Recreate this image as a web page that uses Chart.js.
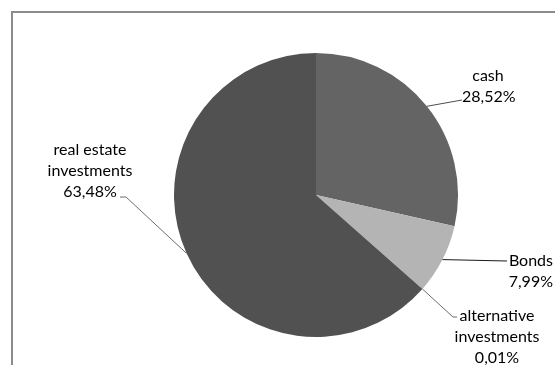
<!DOCTYPE html>
<html>
<head>
<meta charset="utf-8">
<script src="https://cdn.jsdelivr.net/npm/chart.js@4.4.1/dist/chart.umd.min.js"></script>
<style>
  html, body { margin: 0; padding: 0; background: #ffffff; }
  #wrap { width: 555px; height: 365px; position: relative; }
</style>
</head>
<body>
<div id="wrap"><canvas id="c" width="555" height="365"></canvas></div>
<script>
// Portfolio allocation, shares in percent
const categories = ['cash', 'Bonds', 'alternative investments', 'real estate investments'];
const labelLines = [['cash'], ['Bonds'], ['alternative', 'investments'], ['real estate', 'investments']];
const shares = [28.52, 7.99, 0.01, 63.48];
const sliceColors = ['#646464', '#b4b4b4', '#4a4a4a', '#515151'];

const fmt = v => v.toFixed(2).replace('.', ',') + '%';

// Callout placement for each slice: where the leader line ends (elbow) and
// where the text block sits, plus text alignment.
const callouts = [
  { elbow: [462, 100], tail: null, tx: 488, ty: 76, align: 'center', valueAlign: 'left', valueX: 462, valueY: 97 },
  { elbow: [507, 261], tail: null, tx: 553, ty: 261, align: 'right', valueAlign: 'right', valueX: 553, valueY: 282 },
  { elbow: [453, 317], tail: [457, 317], tx: 497, ty: 316, align: 'center' },
  { elbow: [126, 197], tail: [120, 197], tx: 90, ty: 150, align: 'center' }
];

const FONT = '16px Lato';
const LINE_H = 21;

const frame = {
  id: 'frame',
  beforeDraw(chart) {
    const ctx = chart.ctx;
    ctx.save();
    ctx.strokeStyle = '#8c8c8c';
    ctx.lineWidth = 2;
    ctx.beginPath();
    ctx.moveTo(12, 380);
    ctx.lineTo(12, 12);
    ctx.lineTo(570, 12);
    ctx.stroke();
    ctx.restore();
  }
};

const callout = {
  id: 'callout',
  afterDatasetsDraw(chart) {
    const ctx = chart.ctx;
    const meta = chart.getDatasetMeta(0);
    ctx.save();
    ctx.font = FONT;
    ctx.fillStyle = '#000000';
    ctx.textBaseline = 'middle';
    meta.data.forEach((arc, i) => {
      const p = arc.getProps(['x', 'y', 'startAngle', 'endAngle', 'outerRadius'], true);
      const mid = (p.startAngle + p.endAngle) / 2;
      const ax = p.x + Math.cos(mid) * p.outerRadius;
      const ay = p.y + Math.sin(mid) * p.outerRadius;
      const c = callouts[i];
      ctx.strokeStyle = i === 0 ? '#4d4d4d' : (i === 1 ? '#1a1a1a' : '#6e6e6e');
      ctx.lineWidth = 1;
      ctx.beginPath();
      ctx.moveTo(ax, ay);
      ctx.lineTo(c.elbow[0], c.elbow[1]);
      if (c.tail) ctx.lineTo(c.tail[0], c.tail[1]);
      ctx.stroke();

      const lines = labelLines[i];
      ctx.textAlign = c.align;
      lines.forEach((t, k) => ctx.fillText(t, c.tx, c.ty + k * LINE_H));
      const v = fmt(shares[i]);
      if (c.valueAlign) {
        ctx.textAlign = c.valueAlign;
        ctx.fillText(v, c.valueX, c.valueY);
      } else {
        ctx.fillText(v, c.tx, c.ty + lines.length * LINE_H);
      }
    });
    ctx.restore();
  }
};

new Chart(document.getElementById('c'), {
  type: 'pie',
  data: {
    labels: categories,
    datasets: [{
      data: shares,
      backgroundColor: sliceColors,
      borderWidth: 0
    }]
  },
  options: {
    responsive: false,
    animation: false,
    layout: { padding: { top: 53, bottom: 28, left: 174, right: 97 } },
    plugins: {
      legend: { display: false },
      tooltip: { enabled: false }
    }
  },
  plugins: [frame, callout]
});
</script>
</body>
</html>
